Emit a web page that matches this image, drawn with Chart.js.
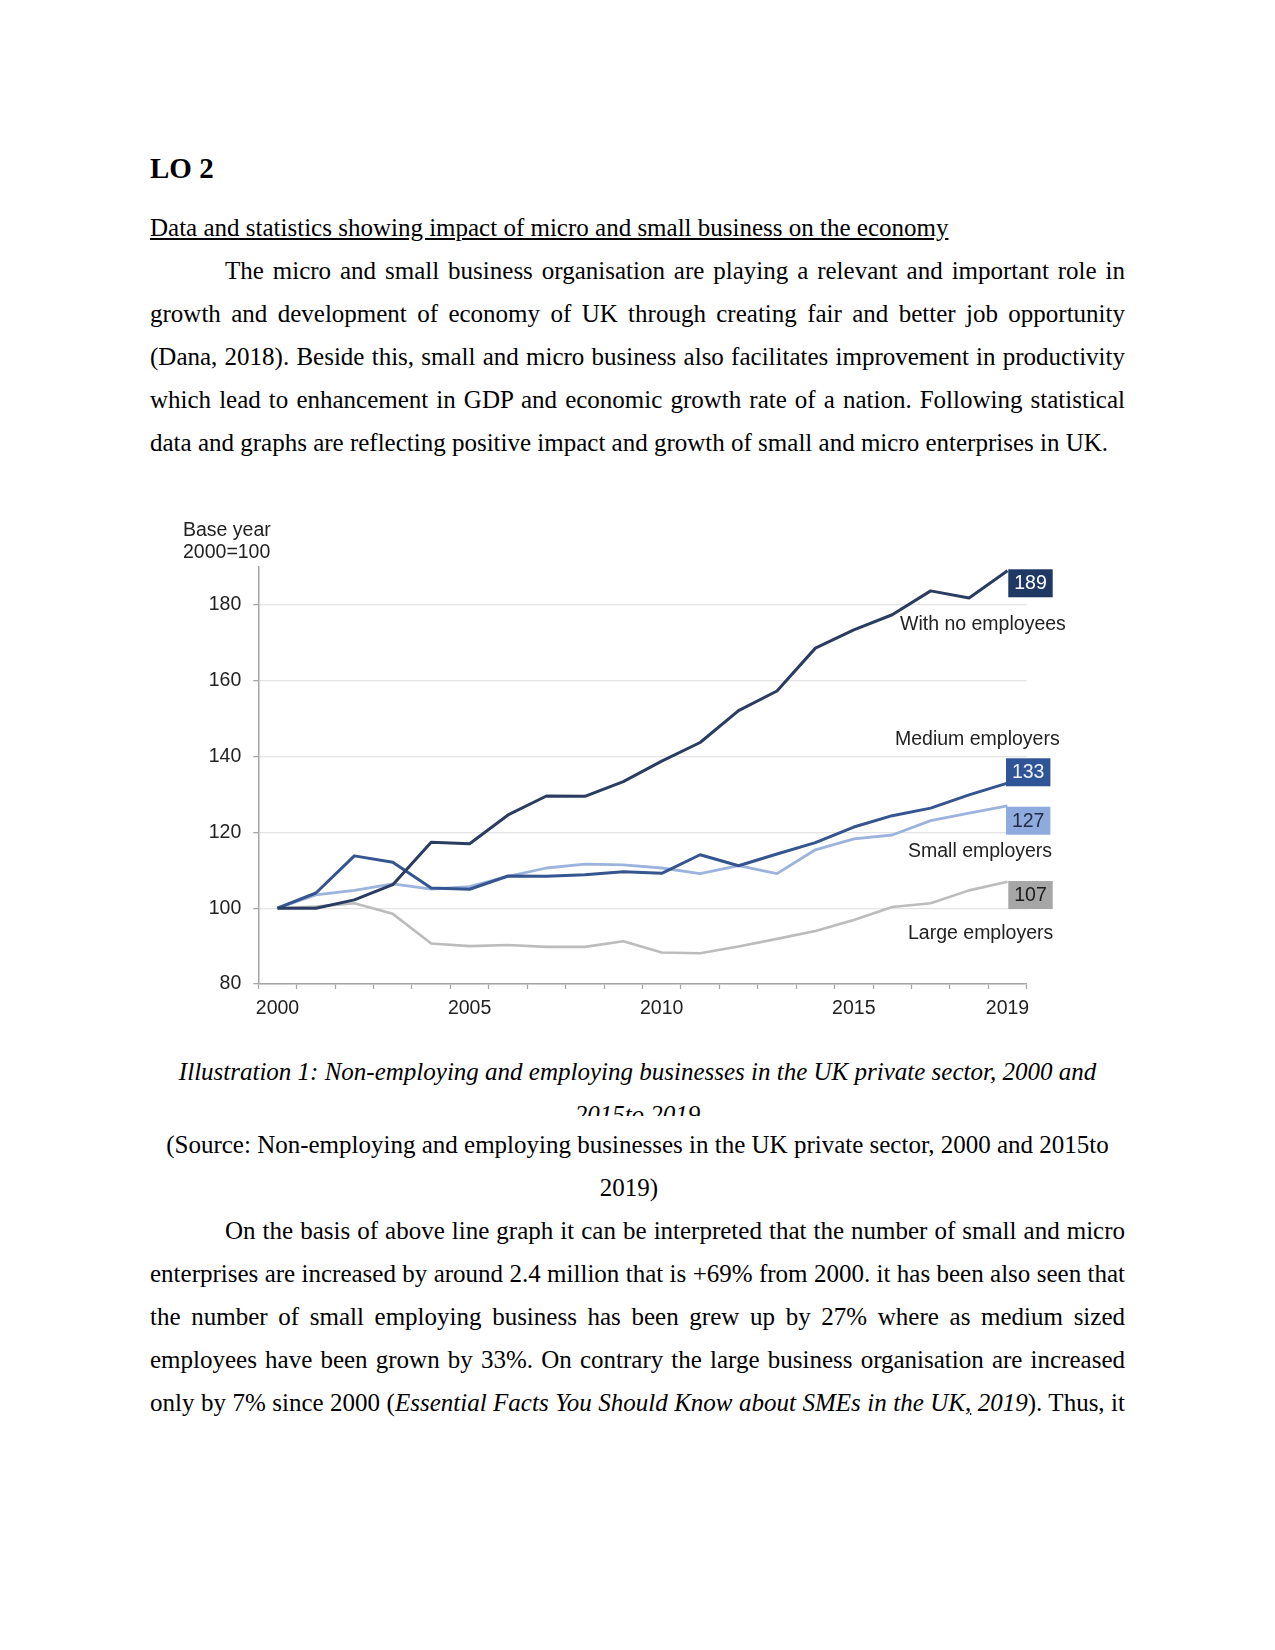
<!DOCTYPE html>
<html>
<head>
<meta charset="utf-8">
<script src="https://cdn.jsdelivr.net/npm/chart.js@4.4.1/dist/chart.umd.min.js"></script>
<style>
html,body{margin:0;padding:0;background:#fff;}
body{width:1275px;height:1650px;position:relative;overflow:hidden;font-family:"Liberation Serif","Times New Roman",serif;color:#000;font-size:25px;}
.abs{position:absolute;left:150px;width:975px;}
.ln{height:43.1px;line-height:43.1px;white-space:normal;}
.j{text-align:justify;text-align-last:justify;}
.c{text-align:center;}
</style>
</head>
<body>
<div class="abs" style="top:151.5px;font-weight:bold;font-size:29px;line-height:33px;">LO 2</div>

<div class="abs" style="top:205.5px;">
  <div class="ln"><u>Data and statistics showing impact of micro and small business on the economy</u></div>
  <div class="ln j" style="text-indent:75px;">The micro and small business organisation are playing a relevant and important role in</div>
  <div class="ln j">growth and development of economy of UK through creating fair and better job opportunity</div>
  <div class="ln j">(Dana, 2018). Beside this, small and micro business also facilitates improvement in productivity</div>
  <div class="ln j">which lead to enhancement in GDP and economic growth rate of a nation. Following statistical</div>
  <div class="ln">data and graphs are reflecting positive impact and growth of small and micro enterprises in UK.</div>
</div>

<canvas id="chart" width="975" height="560" style="position:absolute;left:150px;top:480px;width:975px;height:560px;"></canvas>

<div class="abs c" style="top:1050px;height:66px;overflow:hidden;font-style:italic;">
  <div class="ln">Illustration 1: Non-employing and employing businesses in the UK private sector, 2000 and</div>
  <div class="ln">2015to 2019</div>
</div>

<div class="abs c" style="top:1122.6px;">
  <div class="ln">(Source: Non-employing and employing businesses in the UK private sector, 2000 and 2015to</div>
  <div class="ln" style="padding-right:17px;">2019)</div>
</div>

<div class="abs" style="top:1209px;">
  <div class="ln j" style="text-indent:75px;">On the basis of above line graph it can be interpreted that the number of small and micro</div>
  <div class="ln j">enterprises are increased by around 2.4 million that is +69% from 2000. it has been also seen that</div>
  <div class="ln j">the number of small employing business has been grew up by 27% where as medium sized</div>
  <div class="ln j">employees have been grown by 33%. On contrary the large business organisation are increased</div>
  <div class="ln j">only by 7% since 2000 (<i>Essential Facts You Should Know about SMEs in the UK<u>,</u> 2019</i>). Thus, it</div>
</div>

<script>
// ---- data ----
const years = ['2000','2001','2002','2003','2004','2005','2006','2007','2008','2009',
               '2010','2011','2012','2013','2014','2015','2016','2017','2018','2019'];
const xTickLabels = ['2000','2005','2010','2015','2019'];
const yTickValues = [80, 100, 120, 140, 160, 180];
const axisTitle = ['Base year', '2000=100'];

const seriesNames = ['With no employees', 'Medium employers', 'Small employers', 'Large employers'];
const noEmployees = [100, 100, 102.2, 106.2, 117.4, 117.0, 124.6, 129.6, 129.5, 133.4,
                     138.8, 143.7, 152.1, 157.3, 168.6, 173.4, 177.4, 183.7, 181.8, 189];
const mediumEmployers = [100, 104.0, 113.8, 112.1, 105.3, 105.0, 108.5, 108.4, 108.8, 109.6,
                         109.2, 114.1, 111.2, 114.3, 117.3, 121.4, 124.4, 126.4, 129.9, 133];
const smallEmployers = [100, 103.5, 104.7, 106.4, 105.0, 105.7, 108.4, 110.6, 111.6, 111.4,
                        110.6, 109.1, 111.2, 109.1, 115.4, 118.3, 119.3, 123.1, 125.1, 127];
const largeEmployers = [100, 100.4, 101.3, 98.5, 90.7, 90.0, 90.3, 89.8, 89.8, 91.3,
                        88.3, 88.1, 89.9, 91.9, 94.0, 96.9, 100.3, 101.3, 104.7, 107];

// ---- styles ----
const lineColors = ['#2b3c63', '#34558f', '#9cb3dd', '#bcbcbc'];
const lineWidths = [3, 3, 2.8, 2.6];
const labelStyles = [
  {box:'#203864', boxText:'#ffffff', boxDx:0.8,  boxDy:-1.5,  nameDx:-107.5, nameDy:54.2},
  {box:'#2f5597', boxText:'#eef2fa', boxDx:-1.5, boxDy:-24.8, nameDx:-112.5, nameDy:-43.8},
  {box:'#8faadc', boxText:'#1f2a44', boxDx:-1.5, boxDy:0.9,   nameDx:-99.5,  nameDy:45.9},
  {box:'#a6a6a6', boxText:'#1a1a1a', boxDx:0.8,  boxDy:-0.6,  nameDx:-99.5,  nameDy:52.4}
];
const FONT = '"Liberation Sans", Arial, Helvetica, sans-serif';
const FS = 19.5;
const TEXT = '#222222';

const endLabels = {
  id: 'endLabels',
  afterDatasetsDraw(chart) {
    const {ctx, chartArea, scales: {x, y}} = chart;
    ctx.save();
    ctx.font = FS + 'px ' + FONT;
    ctx.textBaseline = 'middle';
    ctx.fillStyle = TEXT;
    ctx.textAlign = 'left';
    ctx.fillText(axisTitle[0], chartArea.left - 75.3, chartArea.top - 36.5);
    ctx.fillText(axisTitle[1], chartArea.left - 75.3, chartArea.top - 14);
    chart.data.datasets.forEach((ds, i) => {
      const st = labelStyles[i];
      const last = ds.data.length - 1;
      const px = x.getPixelForValue(last);
      const py = y.getPixelForValue(ds.data[last]);
      const bx = px + st.boxDx, by = py + st.boxDy;
      ctx.fillStyle = st.box;
      ctx.fillRect(bx, by, 44.4, 28);
      ctx.fillStyle = st.boxText;
      ctx.textAlign = 'center';
      ctx.fillText(String(Math.round(ds.data[last])), bx + 22.2, by + 14.8);
      ctx.fillStyle = TEXT;
      ctx.textAlign = 'left';
      ctx.fillText(ds.label, px + st.nameDx, py + st.nameDy);
    });
    ctx.restore();
  }
};

const seriesData = [noEmployees, mediumEmployers, smallEmployers, largeEmployers];

new Chart(document.getElementById('chart'), {
  type: 'line',
  data: {
    labels: years,
    datasets: seriesData.map((d, i) => ({
      label: seriesNames[i],
      data: d,
      borderColor: lineColors[i],
      borderWidth: lineWidths[i],
      pointRadius: 0,
      tension: 0,
      fill: false,
      borderJoinStyle: 'round'
    }))
  },
  options: {
    responsive: false,
    animation: false,
    devicePixelRatio: 1,
    layout: {padding: {left: 0, right: 98.3, top: 87, bottom: 0}},
    plugins: {legend: {display: false}, tooltip: {enabled: false}, title: {display: false}},
    scales: {
      x: {
        offset: true,
        grid: {offset: true, drawOnChartArea: false, drawTicks: true, tickLength: 5, tickColor: '#a6a6a6', tickWidth: 1.3},
        border: {color: '#a6a6a6', width: 1.5},
        ticks: {
          autoSkip: false, maxRotation: 0, padding: 8, color: TEXT,
          font: {family: FONT, size: FS},
          callback: function(v, i) { const l = years[i]; return xTickLabels.includes(l) ? l : ''; }
        },
        afterFit(scale) { scale.height = 56; }
      },
      y: {
        min: 80, max: 190,
        grid: {color: '#e4e4e4', lineWidth: 1.3, tickLength: 5, tickColor: '#a6a6a6', tickWidth: 1.3},
        border: {color: '#a6a6a6', width: 1.5},
        ticks: {stepSize: 20, includeBounds: false, padding: 12, color: TEXT, font: {family: FONT, size: FS}},
        afterBuildTicks(scale) { scale.ticks = yTickValues.map(v => ({value: v})); },
        afterFit(scale) { scale.width = 108.3; }
      }
    }
  },
  plugins: [endLabels]
});
</script>
</body>
</html>
